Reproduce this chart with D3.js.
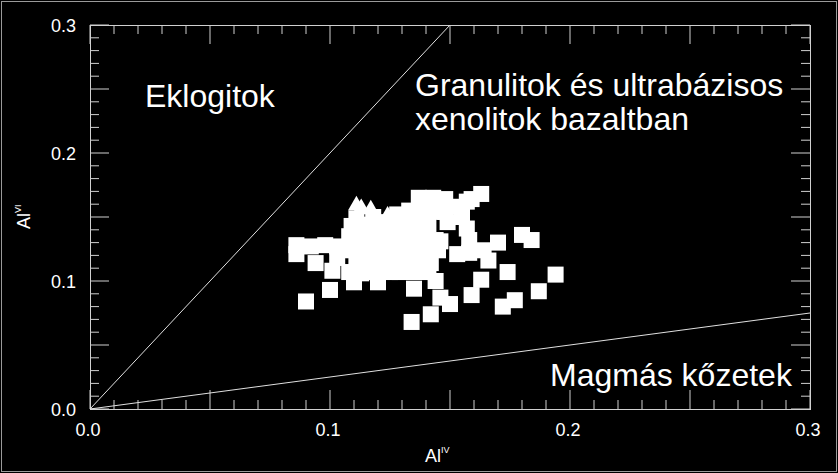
<!DOCTYPE html>
<html><head><meta charset="utf-8">
<script src="https://cdn.jsdelivr.net/npm/d3@7"></script>
<style>
html,body{margin:0;padding:0;background:#000;}
svg{display:block;}
text{font-family:"Liberation Sans",Arial,sans-serif;fill:#fff;}
</style></head>
<body>
<script>
// ---- data ----
const xDomain = [0, 0.3];
const yDomain = [0, 0.3];
const tickValues = [0, 0.1, 0.2, 0.3];
const tickLabels = ["0.0", "0.1", "0.2", "0.3"];

// squares (Al IV, Al VI)
const sqX = [0.090,0.100,0.134,0.142,0.146,0.150,0.135,0.159,0.163,0.172,0.177,0.187,0.194,0.174,0.180,0.184,0.159,0.163,0.170,0.164,0.166,0.144,
  0.086,0.086,0.092,0.094,0.098,0.101,0.103,0.103,
  0.137,0.143,0.148,0.154,0.157,
  0.128,0.133,0.138,0.143,0.148,0.155,0.111,0.118,
  0.109,0.115,0.120,0.125,0.130,0.135,0.141,0.157,0.149,
  0.108,0.113,0.119,0.124,0.129,0.134,0.140,0.144,0.158,0.146,
  0.108,0.113,0.119,0.124,0.129,0.134,0.140,0.145,0.158,0.153,
  0.111,0.116,0.121,0.126,0.131,0.136,0.142,
  0.108,0.113,0.119,0.125,0.129,0.135,0.141,
  0.110,0.120];
const sqY = [0.084,0.093,0.068,0.074,0.087,0.082,0.094,0.089,0.101,0.080,0.085,0.092,0.105,0.107,0.136,0.132,0.164,0.168,0.130,0.124,0.116,0.100,
  0.128,0.121,0.127,0.114,0.128,0.108,0.127,0.118,
  0.165,0.165,0.164,0.158,0.162,
  0.152,0.155,0.155,0.154,0.154,0.150,0.149,0.150,
  0.143,0.144,0.146,0.145,0.144,0.145,0.144,0.141,0.146,
  0.135,0.133,0.134,0.133,0.133,0.133,0.133,0.132,0.132,0.131,
  0.124,0.124,0.124,0.124,0.124,0.124,0.124,0.124,0.122,0.121,
  0.114,0.114,0.114,0.114,0.114,0.114,0.114,
  0.107,0.106,0.107,0.107,0.107,0.107,0.107,
  0.099,0.099];
// triangles
const triX = [0.111,0.113,0.117,0.124];
const triY = [0.159,0.157,0.156,0.151];

// boundary lines: Al VI / Al IV ratios
const lineSlopes = [2, 0.25];

const W = 838, H = 473;
const m = {left: 90, top: 25, right: 28, bottom: 64};
const iw = W - m.left - m.right, ih = H - m.top - m.bottom;

const svg = d3.select("body").append("svg").attr("width", W).attr("height", H);
svg.append("rect").attr("width", W).attr("height", H).attr("fill", "#000");
svg.append("rect").attr("x", 1.5).attr("y", 1.5).attr("width", W - 3).attr("height", H - 3)
  .attr("fill", "none").attr("stroke", "#9a9a9a").attr("stroke-width", 1);

const x = d3.scaleLinear().domain(xDomain).range([m.left, m.left + iw]);
const y = d3.scaleLinear().domain(yDomain).range([m.top + ih, m.top]);

const tickCol = "#d0d0d0";
const minor = d3.range(0, 31).map(i => i / 100);
const isMajor = v => Math.abs(Math.round(v * 100) % 5) === 0;

// inward ticks on all four sides
function tk(v) { return isMajor(v) ? 19 : 9; }
const g = svg.append("g");
minor.forEach(v => {
  const L = tk(v);
  g.append("line").attr("x1", x(v)).attr("x2", x(v)).attr("y1", y(0)).attr("y2", y(0) - L).attr("stroke", tickCol);
  g.append("line").attr("x1", x(v)).attr("x2", x(v)).attr("y1", y(0.3)).attr("y2", y(0.3) + L).attr("stroke", tickCol);
  g.append("line").attr("y1", y(v)).attr("y2", y(v)).attr("x1", x(0)).attr("x2", x(0) + L).attr("stroke", tickCol);
  g.append("line").attr("y1", y(v)).attr("y2", y(v)).attr("x1", x(0.3)).attr("x2", x(0.3) - L).attr("stroke", tickCol);
});
svg.append("rect").attr("x", x(0) + 0.5).attr("y", y(0.3) + 0.5)
  .attr("width", x(0.3) - x(0)).attr("height", y(0) - y(0.3))
  .attr("fill", "none").attr("stroke", tickCol).attr("stroke-width", 1);

// tick labels
tickValues.forEach((v, i) => {
  svg.append("text").attr("x", x(v) - 2).attr("y", 436).attr("text-anchor", "middle")
    .attr("font-size", 18).text(tickLabels[i]);
  svg.append("text").attr("x", 76).attr("y", y(v) + 6.5).attr("text-anchor", "end")
    .attr("font-size", 18).text(tickLabels[i]);
});

// axis titles
const xt = svg.append("text").attr("x", 425).attr("y", 462).attr("font-size", 18);
xt.append("tspan").text("Al");
xt.append("tspan").attr("font-size", 9).attr("dy", -9).text("IV");
const yt = svg.append("text").attr("transform", "translate(30,229) rotate(-90)").attr("font-size", 18);
yt.append("tspan").text("Al");
yt.append("tspan").attr("font-size", 9).attr("dy", -9).text("VI");

// boundary lines
lineSlopes.forEach(s => {
  const xe = Math.min(0.3, 0.3 / s);
  svg.append("line").attr("x1", x(0)).attr("y1", y(0)).attr("x2", x(xe)).attr("y2", y(xe * s))
    .attr("stroke", "#e0e0e0").attr("stroke-width", 1);
});

// region labels
const lab = svg.append("g").attr("font-size", 32);
lab.append("text").attr("x", 145).attr("y", 107).text("Eklogitok");
lab.append("text").attr("x", 415).attr("y", 96).text("Granulitok és ultrabázisos");
lab.append("text").attr("x", 415).attr("y", 130).text("xenolitok bazaltban");
lab.append("text").attr("x", 550).attr("y", 386).text("Magmás kőzetek");

// points
const S = 16;
const sq = sqX.map((v, i) => [v, sqY[i]]);
svg.append("g").selectAll("rect").data(sq).join("rect")
  .attr("x", d => x(d[0]) - S / 2).attr("y", d => y(d[1]) - S / 2)
  .attr("width", S).attr("height", S).attr("fill", "#fff");
const tri = triX.map((v, i) => [v, triY[i]]);
const triPath = d3.symbol().type(d3.symbolTriangle).size(120);
svg.append("g").selectAll("path").data(tri).join("path")
  .attr("transform", d => `translate(${x(d[0])},${y(d[1])})`)
  .attr("d", triPath).attr("fill", "#fff");
</script>
</body></html>
